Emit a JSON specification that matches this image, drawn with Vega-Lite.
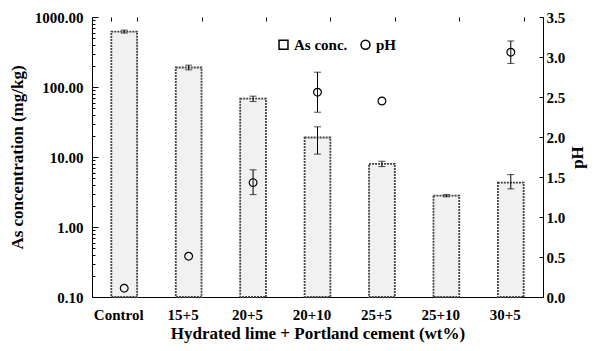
{
  "$schema": "https://vega.github.io/schema/vega-lite/v6.json",
  "width": 451,
  "height": 280,
  "autosize": "none",
  "padding": {"left": 92, "top": 17, "right": 56, "bottom": 54},
  "background": "white",
  "config": {
    "font": "Liberation Serif",
    "view": {"stroke": null},
    "axis": {"ticks": false, "tickSize": 0, "domainColor": "black", "labelColor": "black", "titleColor": "black", "labelFont": "Liberation Serif", "titleFont": "Liberation Serif", "labelFontWeight": "bold", "titleFontWeight": "bold", "gridColor": "black", "gridOpacity": 1, "gridWidth": 1},
    "legend": {"symbolOpacity": 1}
  },
  "data": {
    "values": [
      {"mix": "Control", "as": 620, "aslo": 590, "ashi": 650, "ph": 0.11, "phlo": null, "phhi": null, "s": "pH"},
      {"mix": "15+5", "as": 190, "aslo": 176, "ashi": 205, "ph": 0.51, "phlo": null, "phhi": null, "s": "pH"},
      {"mix": "20+5", "as": 68, "aslo": 62, "ashi": 74, "ph": 1.43, "phlo": 1.28, "phhi": 1.59, "s": "pH"},
      {"mix": "20+10", "as": 19, "aslo": 11, "ashi": 27, "ph": 2.56, "phlo": 2.31, "phhi": 2.81, "s": "pH"},
      {"mix": "25+5", "as": 8, "aslo": 7.3, "ashi": 8.7, "ph": 2.45, "phlo": null, "phhi": null, "s": "pH"},
      {"mix": "25+10", "as": 2.8, "aslo": 2.7, "ashi": 2.9, "ph": null, "phlo": null, "phhi": null, "s": "pH"},
      {"mix": "30+5", "as": 4.3, "aslo": 3.5, "ashi": 5.6, "ph": 3.06, "phlo": 2.92, "phhi": 3.20, "s": "pH"}
    ]
  },
  "encoding": {
    "x": {
      "field": "mix", "type": "nominal", "sort": null,
      "scale": {"paddingInner": 0.6, "paddingOuter": 0.3},
      "axis": {
        "title": "Hydrated lime + Portland cement (wt%)",
        "labelAngle": 0, "labelFontSize": 15, "titleFontSize": 17,
        "grid": true, "tickBand": "extent", "gridDash": [4, 2000],
        "labelPadding": 10, "labelOffset": -6,
        "titlePadding": 3
      }
    }
  },
  "layer": [
    {
      "encoding": {
        "y": {
          "type": "quantitative",
          "scale": {"type": "log", "domain": [0.1, 1000], "nice": false},
          "axis": {
            "orient": "left",
            "title": "As concentration (mg/kg)",
            "titleFontSize": 17, "labelFontSize": 15,
            "values": [0.1,0.2,0.3,0.4,0.5,0.6,0.7,0.8,0.9,1,2,3,4,5,6,7,8,9,10,20,30,40,50,60,70,80,90,100,200,300,400,500,600,700,800,900,1000],
            "labelExpr": "abs(log(datum.value)/LN10 - round(log(datum.value)/LN10)) < 0.001 ? format(datum.value, '.2f') : ''",
            "grid": true,
            "gridDash": {"condition": {"test": "abs(log(datum.value)/LN10 - round(log(datum.value)/LN10)) < 0.001", "value": [6, 2000]}, "value": [3, 2000]},
            "labelPadding": 9,
            "titlePadding": 8
          }
        }
      },
      "layer": [
        {
          "mark": {"type": "bar", "fill": "#f1f1f1", "stroke": "#444", "strokeWidth": 1.8, "strokeDash": [2, 1]},
          "encoding": {
            "y": {"field": "as"},
            "y2": {"datum": 0.1}
          }
        },
        {
          "mark": {"type": "rule", "color": "black", "strokeWidth": 1},
          "encoding": {
            "y": {"field": "aslo"},
            "y2": {"field": "ashi"}
          }
        },
        {
          "mark": {"type": "tick", "color": "black", "size": 7, "thickness": 1},
          "encoding": {"y": {"field": "aslo"}}
        },
        {
          "mark": {"type": "tick", "color": "black", "size": 7, "thickness": 1},
          "encoding": {"y": {"field": "ashi"}}
        }
      ]
    },
    {
      "transform": [{"filter": "datum.ph != null"}],
      "encoding": {
        "y": {
          "type": "quantitative",
          "scale": {"domain": [0, 3.5], "nice": false},
          "axis": {
            "orient": "right",
            "title": "pH", "titleAngle": -90, "titleFontSize": 17, "labelFontSize": 15,
            "values": [0, 0.5, 1, 1.5, 2, 2.5, 3, 3.5], "format": ".1f",
            "grid": true, "gridDash": [4, 2000],
            "labelPadding": 3, "titlePadding": 22
          }
        }
      },
      "layer": [
        {
          "transform": [{"filter": "datum.phlo != null"}],
          "mark": {"type": "rule", "color": "black", "strokeWidth": 1},
          "encoding": {
            "y": {"field": "phlo"},
            "y2": {"field": "phhi"}
          }
        },
        {
          "transform": [{"filter": "datum.phlo != null"}],
          "mark": {"type": "tick", "color": "black", "size": 7, "thickness": 1},
          "encoding": {"y": {"field": "phlo"}}
        },
        {
          "transform": [{"filter": "datum.phlo != null"}],
          "mark": {"type": "tick", "color": "black", "size": 7, "thickness": 1},
          "encoding": {"y": {"field": "phhi"}}
        },
        {
          "mark": {"type": "point", "filled": false, "stroke": "black", "strokeWidth": 1.2, "size": 60, "opacity": 1},
          "encoding": {
            "y": {"field": "ph"},
            "shape": {
              "field": "s", "type": "nominal",
              "scale": {"domain": ["As conc.", "pH"], "range": ["square", "circle"]},
              "legend": {
                "title": null, "orient": "none", "legendX": 184, "legendY": 20,
                "direction": "horizontal", "labelFont": "Liberation Serif", "labelFontWeight": "bold", "labelFontSize": 15,
                "labelColor": "black", "symbolSize": 80, "columnPadding": 10, "labelOffset": 3,
                "symbolType": "circle",
                "symbolStrokeColor": "black", "symbolStrokeWidth": 1.5
              }
            }
          }
        }
      ]
    }
  ],
  "resolve": {"scale": {"y": "independent"}, "axis": {"y": "independent"}}
}
